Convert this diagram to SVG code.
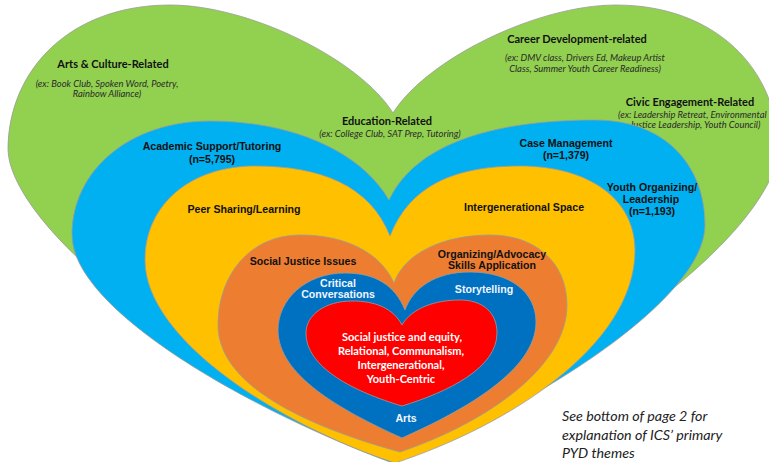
<svg xmlns="http://www.w3.org/2000/svg" width="769" height="462" viewBox="0 0 769 462">
<style>
.heart{stroke:#9c9c9c;stroke-width:0.8}
.cal{font-family:Lato,"Open Sans","Liberation Sans",sans-serif;font-weight:bold;fill:#111;text-anchor:middle}
.ex{font-family:Lato,"Open Sans","Liberation Sans",sans-serif;font-style:italic;fill:#2a2a2a;text-anchor:middle;font-size:9.4px}
.ar{font-family:"Liberation Sans",Arial,sans-serif;font-weight:bold;fill:#111;text-anchor:middle;font-size:10.6px}
.wh{fill:#f2f6ff}
.core{font-family:Lato,"Open Sans","Liberation Sans",sans-serif;font-weight:bold;fill:#fff;text-anchor:middle;font-size:11px}
.note{font-family:Lato,"Open Sans","Liberation Sans",sans-serif;font-style:italic;fill:#222;font-size:14.3px}
</style>
<rect width="769" height="462" fill="#fff"/>
<g id="connectors"/>
<g id="green-heart">
<path class="heart" fill="#92D050" d="M393,113 C360,60 250,5 170,5 C70,5 8,70 8,150 C10,215 150,350 392,445 C636,350 776,215 778,150 C778,70 716,5 616,5 C536,5 426,60 393,113 Z"/>
<text class="cal" x="113" y="68" font-size="11">Arts &amp; Culture-Related</text>
<text class="ex" x="107" y="87">(ex: Book Club, Spoken Word, Poetry,</text>
<text class="ex" x="107" y="97">Rainbow Alliance)</text>
<text class="cal" x="577" y="43" font-size="11">Career Development-related</text>
<text class="ex" x="585" y="61">(ex:  DMV class, Drivers Ed, Makeup Artist</text>
<text class="ex" x="585" y="72">Class, Summer Youth Career Readiness)</text>
<text class="cal" x="690" y="106" font-size="11">Civic Engagement-Related</text>
<text class="ex" x="618" y="118" style="text-anchor:start">(ex:  Leadership Retreat, Environmental</text>
<text class="ex" x="695" y="128">Justice Leadership, Youth Council)</text>
<text class="cal" x="387" y="125" font-size="11">Education-Related</text>
<text class="ex" x="390" y="137">(ex:  College Club, SAT Prep, Tutoring)</text>
</g>
<g id="blue-heart">
<path class="heart" fill="#00B0F0" d="M389,200 C360,150 290,121 210,121 C130,121 72,170 72,235 C72,310 250,410 390,462 C530,410 705,300 705,225 C705,165 665,120 595,120 C490,120 415,145 389,200 Z"/>
<text class="ar" x="212" y="150">Academic Support/Tutoring</text>
<text class="ar" x="212" y="163">(n=5,795)</text>
<text class="ar" x="566" y="147">Case Management</text>
<text class="ar" x="566" y="159">(n=1,379)</text>
<text class="ar" x="652" y="191">Youth Organizing/</text>
<text class="ar" x="651" y="203">Leadership</text>
<text class="ar" x="652" y="215">(n=1,193)</text>
</g>
<g id="yellow-heart">
<path class="heart" fill="#FFC000" d="M390,236 C370,185 320,166 255,166 C190,166 145,205 145,260 C145,340 280,425 395,463 C510,425 635,345 635,250 C635,200 590,166 520,166 C455,166 410,185 390,236 Z"/>
<text class="ar" x="244" y="213">Peer Sharing/Learning</text>
<text class="ar" x="524" y="211">Intergenerational Space</text>
</g>
<g id="orange-heart">
<path class="heart" fill="#ED7D31" d="M394,283 C380,252 345,235 300,235 C250,235 218,275 218,325 C218,390 320,430 400,452 C480,425 567,370 567,305 C567,262 535,235 490,235 C445,235 405,252 394,283 Z"/>
<text class="ar" x="303" y="265">Social Justice Issues</text>
<text class="ar" x="492" y="258">Organizing/Advocacy</text>
<text class="ar" x="492" y="269">Skills Application</text>
</g>
<g id="darkblue-heart">
<path class="heart" fill="#0070C0" d="M405,310 C395,285 375,273 345,273 C305,273 278,300 278,330 C278,375 340,410 402,438 C465,410 536,370 536,322 C536,292 510,272 470,272 C435,272 413,288 405,310 Z"/>
<text class="ar wh" x="338" y="287">Critical</text>
<text class="ar wh" x="338" y="298">Conversations</text>
<text class="ar wh" x="484" y="293">Storytelling</text>
<text class="ar wh" x="406" y="422">Arts</text>
</g>
<g id="red-heart">
<path class="heart" fill="#FF0000" d="M402,325 C393,308 375,301 352,301 C325,301 306,315 306,333 C306,368 355,392 402,406 C448,392 497,368 497,333 C497,312 482,300 460,300 C435,300 412,308 402,325 Z"/>
<text class="core" x="402" y="341">Social justice and equity,</text>
<text class="core" x="401" y="355">Relational, Communalism,</text>
<text class="core" x="401" y="369">Intergenerational,</text>
<text class="core" x="401" y="383">Youth-Centric</text>
</g>
<g id="note">
<text class="note" x="562" y="421">See bottom of page 2 for</text>
<text class="note" x="562" y="440">explanation of ICS’ primary</text>
<text class="note" x="562" y="458">PYD themes</text>
</g>
</svg>
